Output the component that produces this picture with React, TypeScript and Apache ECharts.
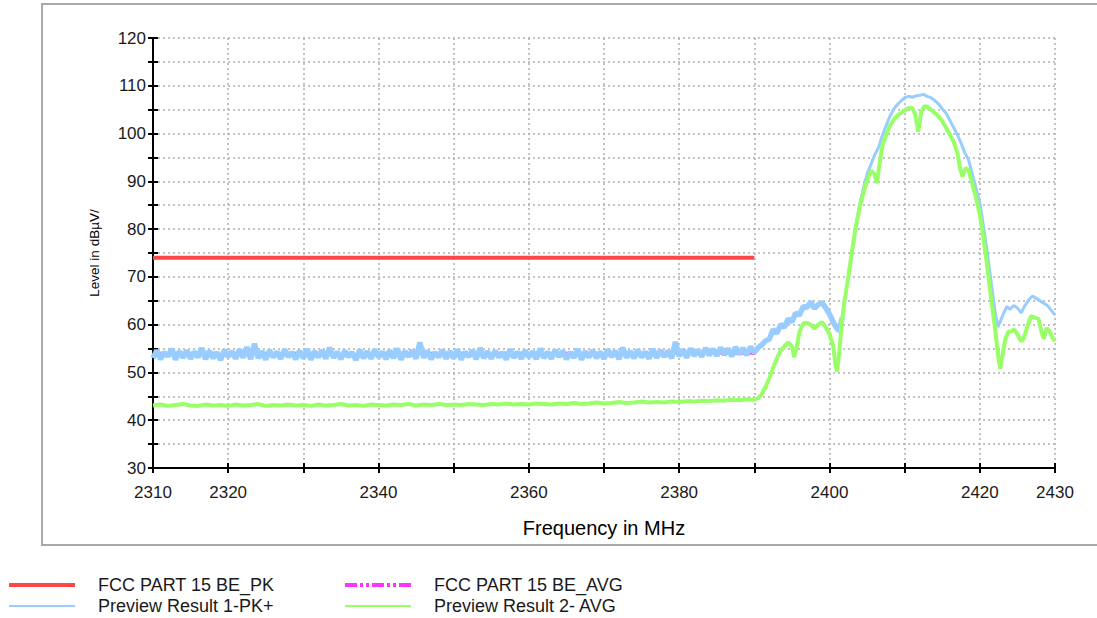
import React, { useEffect, useRef } from "react";
import * as echarts from "echarts";

// ---- axis setup ----
const X_MIN = 2310;
const X_MAX = 2430;
const X_LABELS = [2310, 2320, 2340, 2360, 2380, 2400, 2420, 2430];
const Y_MIN = 30;
const Y_MAX = 120;

// ---- limit lines ----
const limitPK: [number, number][] = [[2310, 74], [2390, 74]];
const limitAVG: [number, number][] = [[2310, 54], [2390, 54]];

// ---- Preview Result 1-PK+ (flat part, 2310..2390 step 0.5 MHz) ----
const BLUE_FLAT_START = 2310;
const BLUE_FLAT_STEP = 0.5;
const blueFlat = [
  53.0, 54.6, 52.8, 54.2, 53.4, 54.9, 52.7, 54.4, 53.1, 54.6,
  52.9, 54.3, 53.2, 55.1, 52.8, 54.5, 53.0, 54.2, 52.6, 54.7,
  53.3, 54.4, 52.9, 54.8, 53.1, 55.3, 52.8, 56.0, 53.0, 54.4,
  52.7, 54.6, 53.2, 54.3, 52.9, 54.8, 53.3, 54.2, 52.8, 54.5,
  53.0, 54.9, 52.7, 54.4, 53.2, 54.6, 52.9, 55.2, 53.1, 54.3,
  52.8, 54.5, 53.3, 54.2, 52.6, 54.7, 53.0, 54.4, 52.9, 54.8,
  53.2, 54.3, 52.8, 54.6, 53.0, 55.0, 52.7, 54.4, 53.3, 54.6,
  52.9, 56.3, 53.1, 54.5, 52.8, 54.2, 53.2, 54.7, 52.9, 54.4,
  53.0, 54.8, 52.7, 54.3, 53.3, 54.6, 52.8, 55.1, 53.0, 54.4,
  52.9, 54.5, 53.2, 54.2, 52.7, 54.8, 53.1, 54.3, 52.9, 54.6,
  53.2, 54.4, 52.8, 55.0, 53.0, 54.3, 52.9, 54.7, 53.3, 54.5,
  52.8, 54.2, 53.1, 54.9, 52.7, 54.4, 53.2, 54.6, 53.0, 54.3,
  52.9, 54.8, 53.3, 54.5, 52.8, 55.2, 53.1, 54.4, 53.0, 54.7,
  53.2, 54.3, 52.9, 54.9, 53.1, 54.6, 53.3, 54.5, 53.0, 56.4,
  53.4, 54.8, 53.1, 55.0, 53.5, 54.7, 53.3, 55.1, 53.6, 54.9,
  53.5, 55.2, 53.7, 55.0, 53.4, 55.3, 53.8, 55.1, 53.6, 55.4,
  54.2,
];

// ---- Preview Result 1-PK+ (signal part) [MHz, dBµV] ----
const blueSignal: [number, number][] = [
  [2390.5, 55.2], [2391, 55.8], [2391.5, 56.6], [2392, 57.0], [2392.5, 59.0],
  [2393, 58.2], [2393.5, 60.0], [2394, 59.5], [2394.5, 61.2], [2395, 60.6],
  [2395.5, 62.4], [2396, 62.0], [2396.5, 63.8], [2397, 63.6], [2397.5, 64.8],
  [2398, 63.4], [2398.5, 64.2], [2399, 64.6], [2399.5, 63.5], [2400, 62.2],
  [2400.5, 60.5], [2401, 59.2], [2401.3, 58.7], [2401.7, 61.5], [2402, 65.0],
  [2402.3, 68.0], [2402.7, 71.5], [2403, 75.0], [2403.5, 80.5], [2404, 85.0],
  [2404.5, 88.5], [2405, 91.5], [2405.5, 93.5], [2406, 95.5], [2406.5, 97.0],
  [2407, 99.5], [2407.5, 101.5], [2408, 103.5], [2408.5, 105.0], [2409, 106.0],
  [2409.5, 106.8], [2410, 107.5], [2410.5, 107.8], [2411, 107.6], [2411.5, 107.9],
  [2412, 108.0], [2412.5, 108.2], [2413, 107.8], [2413.5, 107.5], [2414, 106.9],
  [2414.5, 106.2], [2415, 105.2], [2415.5, 104.3], [2416, 102.8], [2416.5, 101.3],
  [2417, 99.8], [2417.5, 98.0], [2418, 96.0], [2418.5, 94.5], [2419, 91.5],
  [2419.5, 88.5], [2420, 85.5], [2420.5, 80.5], [2421, 75.0], [2421.5, 69.0],
  [2422, 63.0], [2422.4, 59.5], [2422.8, 61.0], [2423.2, 62.5], [2423.6, 63.8],
  [2424, 63.2], [2424.5, 64.0], [2425, 63.5], [2425.5, 62.5], [2426, 64.0],
  [2426.5, 65.2], [2427, 66.0], [2427.5, 65.5], [2428, 65.0], [2428.5, 64.5],
  [2429, 64.0], [2429.5, 63.0], [2430, 62.0],
];

// ---- Preview Result 2- AVG (flat part, 2310..2390 step 1 MHz) ----
const GREEN_FLAT_START = 2310;
const GREEN_FLAT_STEP = 1;
const greenFlat = [
  43.1, 43.3, 43.0, 43.2, 43.4, 43.1, 43.0, 43.3, 43.1, 43.2,
  43.0, 43.3, 43.1, 43.2, 43.4, 43.0, 43.2, 43.1, 43.3, 43.1,
  43.2, 43.0, 43.3, 43.1, 43.2, 43.4, 43.1, 43.2, 43.0, 43.3,
  43.2, 43.1, 43.3, 43.2, 43.4, 43.1, 43.3, 43.2, 43.4, 43.2,
  43.3, 43.2, 43.4, 43.3, 43.2, 43.4, 43.3, 43.5, 43.3, 43.4,
  43.3, 43.5, 43.4, 43.3, 43.5, 43.4, 43.6, 43.4, 43.5, 43.7,
  43.5, 43.6, 43.8, 43.6, 43.7, 43.9, 43.7, 43.8, 43.7, 43.9,
  43.8, 44.0, 43.9, 44.1, 44.0, 44.2, 44.1, 44.3, 44.2, 44.4,
  44.3,
];

// ---- Preview Result 2- AVG (signal part) ----
const greenSignal: [number, number][] = [
  [2390.5, 44.6], [2391, 45.5], [2391.5, 47.0], [2392, 48.8], [2392.5, 51.0],
  [2393, 53.0], [2393.5, 54.5], [2394, 55.5], [2394.5, 56.3], [2395, 55.5],
  [2395.3, 53.2], [2395.7, 55.8], [2396, 58.5], [2396.5, 60.2], [2397, 60.4],
  [2397.5, 60.0], [2398, 59.2], [2398.5, 60.0], [2399, 60.5], [2399.5, 59.5],
  [2400, 58.0], [2400.5, 55.5], [2400.8, 51.5], [2401, 50.2], [2401.3, 54.0],
  [2401.6, 60.0], [2402, 65.0], [2402.5, 70.0], [2403, 75.5], [2403.5, 80.5],
  [2404, 84.5], [2404.5, 87.5], [2405, 90.2], [2405.5, 92.2], [2406, 91.5],
  [2406.3, 89.6], [2406.6, 93.0], [2407, 97.2], [2407.5, 99.5], [2408, 101.5],
  [2408.5, 102.8], [2409, 103.7], [2409.5, 104.3], [2410, 104.9], [2410.5, 105.3],
  [2411, 105.4], [2411.4, 104.0], [2411.8, 100.4], [2412.2, 104.5], [2412.6, 105.7],
  [2413, 105.6], [2413.5, 105.0], [2414, 104.3], [2414.5, 103.6], [2415, 102.6],
  [2415.5, 101.2], [2416, 99.8], [2416.5, 98.3], [2417, 96.0], [2417.4, 92.5],
  [2417.7, 91.0], [2418.1, 92.8], [2418.5, 92.3], [2419, 89.5], [2419.5, 86.5],
  [2420, 83.0], [2420.5, 78.0], [2421, 72.0], [2421.5, 65.5], [2422, 59.5],
  [2422.4, 54.0], [2422.7, 50.8], [2423, 53.5], [2423.4, 57.0], [2423.8, 58.5],
  [2424.2, 58.6], [2424.6, 59.0], [2425, 58.0], [2425.5, 56.5], [2425.8, 57.0],
  [2426.3, 59.5], [2426.8, 61.8], [2427.3, 61.5], [2427.8, 61.2], [2428.2, 58.5],
  [2428.5, 57.0], [2428.9, 59.3], [2429.3, 58.5], [2429.7, 57.2], [2430, 56.5],
];

const NAMES = [
  "FCC PART 15 BE_PK",
  "FCC PART 15 BE_AVG",
  "Preview Result 1-PK+",
  "Preview Result 2- AVG",
];

const COLORS = {
  pk: "#ff4747",
  avg: "#ff33ff",
  blue: "#99ccff",
  green: "#99ff66",
};

const FONT = "'Liberation Sans', Arial, sans-serif";

// legend icons
const ICON_THICK = "path://M0,0H66V4H0Z";
const ICON_THIN = "path://M0,0H66V2H0Z";
const ICON_DASHDOT =
  "path://M0,0H12V4H0Z M15,0H18V4H15Z M21,0H24V4H21Z M27,0H39V4H27Z M42,0H45V4H42Z M48,0H51V4H48Z M54,0H66V4H54Z";

function buildOption() {
  const blueBand: [number, number][] = blueFlat
    .map((v, i) => [BLUE_FLAT_START + i * BLUE_FLAT_STEP, v] as [number, number])
    .concat(blueSignal.filter((p) => p[0] <= 2401.7));
  const blueMain: [number, number][] = blueSignal.filter((p) => p[0] >= 2401.3);
  const greenData: [number, number][] = greenFlat
    .map((v, i) => [GREEN_FLAT_START + i * GREEN_FLAT_STEP, v] as [number, number])
    .concat(greenSignal);

  const gridLine = { show: true, lineStyle: { color: "#b0b0b0", width: 1.5, type: [2, 3] as any } };
  const axisLine = { show: true, lineStyle: { color: "#000", width: 2 } };

  const mkLegend = (name: string, left: number, top: number, icon: string, h: number) => ({
    data: [{ name, icon }],
    left,
    top,
    padding: 0,
    itemWidth: 66,
    itemHeight: h,
    selectedMode: false,
    textStyle: {
      fontFamily: FONT,
      fontSize: 18,
      color: "#1a1a1a",
      padding: [0, 0, 0, 18],
    },
  });

  return {
    animation: false,
    backgroundColor: "#ffffff",
    graphic: [
      {
        type: "rect",
        shape: { x: 42, y: 4, width: 1100, height: 541 },
        style: { fill: "none", stroke: "#a8a8a8", lineWidth: 2 },
        z: -1,
        silent: true,
      },
    ],
    grid: { left: 153, right: 42, top: 38, bottom: 150 },
    legend: [
      mkLegend(NAMES[0], 9, 576, ICON_THICK, 4),
      mkLegend(NAMES[1], 345, 576, ICON_DASHDOT, 4),
      mkLegend(NAMES[2], 9, 597, ICON_THIN, 2),
      mkLegend(NAMES[3], 345, 597, ICON_THIN, 2),
    ],
    xAxis: [
      {
        type: "value",
        min: X_MIN,
        max: X_MAX,
        interval: 10,
        name: "Frequency in MHz",
        nameLocation: "middle",
        nameGap: 50,
        nameTextStyle: { fontFamily: FONT, fontSize: 20, color: "#000" },
        axisLine,
        axisTick: { show: true, length: 5, lineStyle: { color: "#000", width: 2 } },
        axisLabel: {
          fontFamily: FONT,
          fontSize: 17,
          color: "#1a1a1a",
          margin: 16,
          showMinLabel: true,
          showMaxLabel: true,
          formatter: (v: number) => (X_LABELS.includes(Math.round(v)) ? String(Math.round(v)) : ""),
        },
        splitLine: gridLine,
      },
      {
        type: "value",
        min: X_MIN,
        max: X_MAX,
        interval: 10,
        position: "bottom",
        axisLine: { show: false },
        axisTick: { show: true, inside: true, length: 5, lineStyle: { color: "#000", width: 2 } },
        axisLabel: { show: false },
        splitLine: { show: false },
      },
    ],
    yAxis: [
      {
        type: "value",
        min: Y_MIN,
        max: Y_MAX,
        interval: 5,
        name: "Level in dBµV/",
        nameLocation: "middle",
        nameGap: 52,
        nameTextStyle: { fontFamily: FONT, fontSize: 13.5, color: "#000" },
        axisLine,
        axisTick: { show: true, length: 5, lineStyle: { color: "#000", width: 2 } },
        axisLabel: {
          fontFamily: FONT,
          fontSize: 17,
          color: "#1a1a1a",
          margin: 7,
          formatter: (v: number) => (Math.round(v) % 10 === 0 ? String(Math.round(v)) : ""),
        },
        splitLine: gridLine,
      },
      {
        type: "value",
        min: Y_MIN,
        max: Y_MAX,
        interval: 5,
        position: "left",
        axisLine: { show: false },
        axisTick: { show: true, inside: true, length: 5, lineStyle: { color: "#000", width: 2 } },
        axisLabel: { show: false },
        splitLine: { show: false },
      },
    ],
    series: [
      {
        name: NAMES[1],
        type: "line",
        data: limitAVG,
        symbol: "none",
        z: 2,
        lineStyle: { color: COLORS.avg, width: 3, type: [12, 3, 3, 3, 3, 3] },
        itemStyle: { color: COLORS.avg },
      },
      {
        name: NAMES[2],
        type: "line",
        data: blueBand,
        symbol: "none",
        z: 3,
        lineStyle: { color: COLORS.blue, width: 5.5 },
        itemStyle: { color: COLORS.blue },
      },
      {
        name: NAMES[2],
        type: "line",
        data: blueMain,
        symbol: "none",
        z: 3,
        lineStyle: { color: COLORS.blue, width: 3 },
        itemStyle: { color: COLORS.blue },
      },
      {
        name: NAMES[3],
        type: "line",
        data: greenData,
        symbol: "none",
        z: 4,
        lineStyle: { color: COLORS.green, width: 4 },
        itemStyle: { color: COLORS.green },
      },
      {
        name: NAMES[0],
        type: "line",
        data: limitPK,
        symbol: "none",
        z: 5,
        lineStyle: { color: COLORS.pk, width: 4 },
        itemStyle: { color: COLORS.pk },
      },
    ],
  };
}

export default function App() {
  const ref = useRef<HTMLDivElement>(null);
  useEffect(() => {
    if (!ref.current) return;
    const chart = echarts.init(ref.current, null, { renderer: "svg" });
    chart.setOption(buildOption() as any);
    return () => chart.dispose();
  }, []);
  return (
    <div
      ref={ref}
      style={{ position: "fixed", left: 0, top: 0, width: 1097, height: 618, background: "#fff" }}
    />
  );
}
